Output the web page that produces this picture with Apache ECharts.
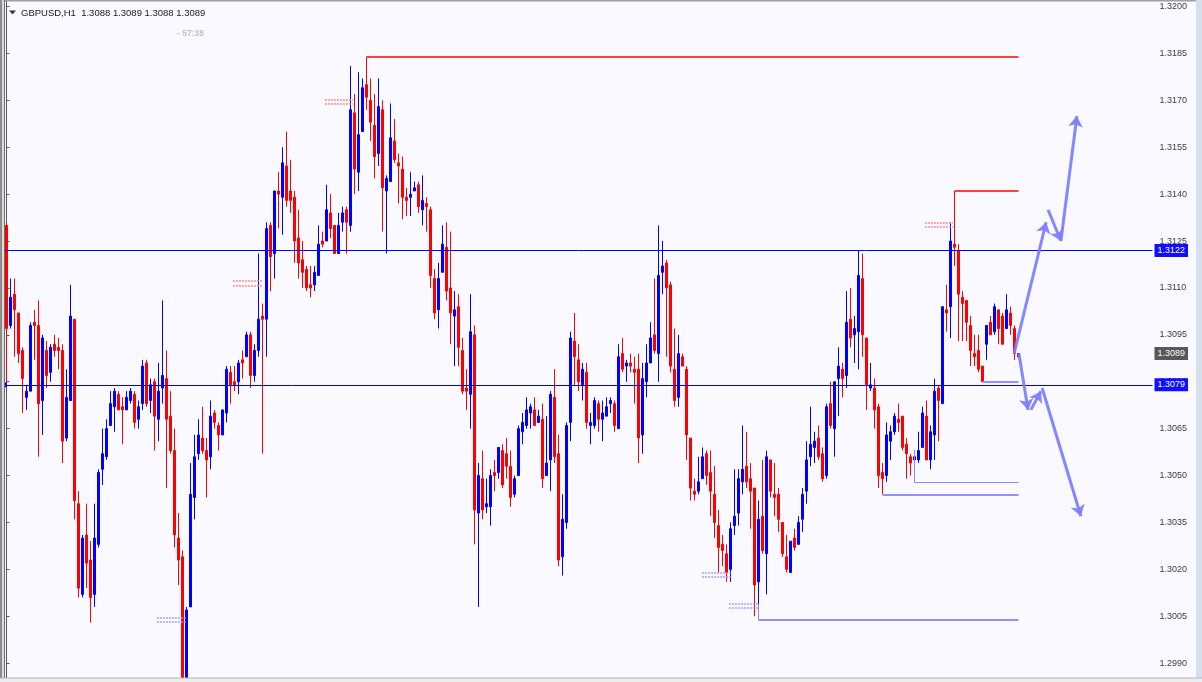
<!DOCTYPE html>
<html><head><meta charset="utf-8">
<script src="https://cdn.jsdelivr.net/npm/echarts@6/dist/echarts.min.js"></script>
<style>html,body{margin:0;padding:0;background:#f9f9ff;overflow:hidden}#c{width:1202px;height:682px}</style>
</head><body><div id="c"></div>
<script>
// ---- data (GBPUSD, H1) ----
const symbolName = 'GBPUSD,H1';
const opens = [
1.3130,1.3098,1.3108,1.3102,1.3090,1.3075,1.3077,1.3099,1.3098,1.3074,
1.3090,1.3083,1.3092,1.3091,1.3090,1.3062,1.3074,1.3100,1.3041,1.3012,
1.3031,1.3023,1.3012,1.3028,1.3052,1.3056,1.3066,1.3072,1.3076,1.3072,
1.3071,1.3074,1.3076,1.3068,1.3073,1.3086,1.3074,1.3080,1.3068,1.3078,
1.3081,1.3069,1.3058,1.3030,1.3024,1.2983,1.3008,1.3043,1.3057,1.3062,
1.3058,1.3056,1.3070,1.3066,1.3063,1.3070,1.3083,1.3080,1.3080,1.3087,
1.3088,1.3095,1.3082,1.3090,1.3101,1.3100,1.3130,1.3121,1.3141,1.3139,
1.3149,1.3141,1.3139,1.3126,1.3119,1.3116,1.3111,1.3111,1.3114,1.3125,
1.3125,1.3134,1.3130,1.3121,1.3131,1.3135,1.3130,1.3166,1.3147,1.3160,
1.3175,1.3170,1.3162,1.3153,1.3167,1.3141,1.3144,1.3157,1.3150,1.3148,
1.3139,1.3139,1.3141,1.3143,1.3135,1.3137,1.3135,1.3113,1.3103,1.3115,
1.3123,1.3110,1.3101,1.3104,1.3090,1.3078,1.3076,1.3095,1.3038,1.3049,
1.3040,1.3040,1.3051,1.3051,1.3058,1.3057,1.3053,1.3044,1.3050,1.3064,
1.3066,1.3070,1.3071,1.3067,1.3068,1.3050,1.3055,1.3075,1.3057,1.3024,
1.3035,1.3067,1.3093,1.3087,1.3079,1.3083,1.3066,1.3066,1.3073,1.3068,
1.3069,1.3073,1.3073,1.3065,1.3089,1.3085,1.3086,1.3084,1.3084,1.3063,
1.3080,1.3086,1.3095,1.3089,1.3115,1.3118,1.3111,1.3084,1.3075,1.3088,
1.3084,1.3062,1.3045,1.3045,1.3049,1.3057,1.3051,1.3044,1.3034,1.3028,
1.3025,1.3020,1.3034,1.3038,1.3048,1.3053,1.3049,1.3046,1.3016,1.3037,
1.3025,1.3055,1.3044,1.3044,1.3035,1.3024,1.3019,1.3030,1.3028,1.3036,
1.3045,1.3056,1.3059,1.3062,1.3057,1.3050,1.3073,1.3065,1.3081,1.3084,
1.3082,1.3100,1.3095,1.3096,1.3113,1.3094,1.3078,1.3078,1.3072,1.3051,
1.3050,1.3061,1.3064,1.3068,1.3069,1.3060,1.3056,1.3055,1.3055,1.3059,
1.3069,1.3055,1.3063,1.3078,1.3073,1.3103,1.3104,1.3124,1.3122,1.3107,
1.3106,1.3098,1.3089,1.3090,1.3085,1.3092,1.3099,1.3096,1.3103,1.3101,
1.3097,1.3102,1.3097,1.3088];
const highs = [
1.3131,1.3113,1.3113,1.3102,1.3091,1.3079,1.3099,1.3103,1.3106,1.3095,
1.3093,1.3092,1.3095,1.3094,1.3092,1.3084,1.3111,1.3100,1.3045,1.3031,
1.3041,1.3029,1.3041,1.3052,1.3065,1.3068,1.3077,1.3078,1.3077,1.3075,
1.3077,1.3078,1.3077,1.3074,1.3087,1.3087,1.3081,1.3081,1.3086,1.3106,
1.3090,1.3077,1.3065,1.3038,1.3026,1.3008,1.3054,1.3063,1.3068,1.3072,
1.3062,1.3074,1.3071,1.3067,1.3071,1.3085,1.3085,1.3085,1.3087,1.3090,
1.3096,1.3096,1.3092,1.3121,1.3105,1.3131,1.3131,1.3141,1.3147,1.3155,
1.3160,1.3151,1.3141,1.3135,1.3125,1.3117,1.3117,1.3117,1.3130,1.3128,
1.3143,1.3140,1.3130,1.3134,1.3136,1.3136,1.3181,1.3172,1.3179,1.3177,
1.3184,1.3177,1.3172,1.3177,1.3170,1.3146,1.3169,1.3164,1.3153,1.3152,
1.3142,1.3147,1.3144,1.3144,1.3146,1.3139,1.3136,1.3116,1.3118,1.3130,
1.3131,1.3128,1.3109,1.3108,1.3094,1.3084,1.3108,1.3098,1.3054,1.3058,
1.3049,1.3052,1.3055,1.3059,1.3060,1.3062,1.3058,1.3050,1.3066,1.3070,
1.3075,1.3073,1.3075,1.3071,1.3073,1.3069,1.3077,1.3084,1.3063,1.3044,
1.3067,1.3096,1.3102,1.3092,1.3086,1.3086,1.3070,1.3075,1.3074,1.3074,
1.3075,1.3075,1.3074,1.3092,1.3094,1.3087,1.3089,1.3088,1.3089,1.3086,
1.3092,1.3099,1.3113,1.3130,1.3125,1.3119,1.3112,1.3097,1.3095,1.3089,
1.3085,1.3062,1.3049,1.3056,1.3059,1.3058,1.3058,1.3053,1.3039,1.3031,
1.3028,1.3035,1.3052,1.3052,1.3066,1.3064,1.3054,1.3046,1.3042,1.3055,
1.3058,1.3055,1.3054,1.3046,1.3035,1.3031,1.3029,1.3033,1.3037,1.3046,
1.3061,1.3072,1.3064,1.3066,1.3059,1.3073,1.3080,1.3080,1.3091,1.3086,
1.3109,1.3110,1.3101,1.3122,1.3121,1.3094,1.3086,1.3081,1.3073,1.3054,
1.3067,1.3066,1.3070,1.3073,1.3069,1.3062,1.3057,1.3058,1.3064,1.3072,
1.3074,1.3066,1.3081,1.3079,1.3104,1.3111,1.3131,1.3141,1.3124,1.3109,
1.3106,1.3101,1.3095,1.3095,1.3085,1.3098,1.3101,1.3105,1.3103,1.3102,
1.3108,1.3104,1.3098,1.3089];
const lows = [
1.3080,1.3097,1.3088,1.3086,1.3070,1.3071,1.3077,1.3087,1.3056,1.3063,
1.3078,1.3080,1.3088,1.3084,1.3054,1.3061,1.3074,1.3036,1.3011,1.3011,
1.3014,1.3003,1.3008,1.3027,1.3047,1.3055,1.3066,1.3064,1.3071,1.3060,
1.3071,1.3073,1.3065,1.3065,1.3071,1.3072,1.3070,1.3058,1.3061,1.3073,
1.3046,1.3057,1.3027,1.3015,1.2978,1.2979,1.3008,1.3036,1.3055,1.3057,
1.3043,1.3052,1.3065,1.3058,1.3063,1.3067,1.3073,1.3077,1.3076,1.3081,
1.3088,1.3078,1.3080,1.3088,1.3057,1.3088,1.3109,1.3113,1.3129,1.3127,
1.3136,1.3134,1.3118,1.3113,1.3110,1.3109,1.3107,1.3109,1.3114,1.3123,
1.3125,1.3126,1.3121,1.3121,1.3128,1.3121,1.3128,1.3140,1.3141,1.3160,
1.3167,1.3157,1.3145,1.3149,1.3128,1.3121,1.3144,1.3150,1.3137,1.3132,
1.3133,1.3133,1.3141,1.3134,1.3130,1.3128,1.3110,1.3100,1.3097,1.3115,
1.3106,1.3092,1.3085,1.3085,1.3076,1.3071,1.3065,1.3028,1.3008,1.3036,
1.3038,1.3034,1.3045,1.3049,1.3046,1.3049,1.3040,1.3043,1.3050,1.3060,
1.3065,1.3065,1.3066,1.3067,1.3046,1.3050,1.3045,1.3054,1.3021,1.3018,
1.3033,1.3061,1.3079,1.3077,1.3074,1.3065,1.3060,1.3065,1.3064,1.3061,
1.3069,1.3070,1.3064,1.3065,1.3083,1.3080,1.3083,1.3073,1.3054,1.3057,
1.3075,1.3086,1.3089,1.3080,1.3108,1.3088,1.3083,1.3072,1.3072,1.3085,
1.3055,1.3042,1.3042,1.3044,1.3049,1.3047,1.3037,1.3030,1.3019,1.3021,
1.3016,1.3016,1.3031,1.3034,1.3044,1.3046,1.3033,1.3005,1.3004,1.3025,
1.3012,1.3043,1.3037,1.3032,1.3024,1.3019,1.3019,1.3026,1.3028,1.3032,
1.3041,1.3053,1.3054,1.3055,1.3048,1.3049,1.3065,1.3056,1.3069,1.3075,
1.3078,1.3091,1.3086,1.3084,1.3088,1.3071,1.3077,1.3065,1.3046,1.3044,
1.3048,1.3055,1.3063,1.3064,1.3058,1.3049,1.3050,1.3048,1.3054,1.3059,
1.3055,1.3052,1.3055,1.3061,1.3073,1.3096,1.3094,1.3117,1.3093,1.3093,
1.3093,1.3085,1.3085,1.3083,1.3080,1.3087,1.3095,1.3095,1.3092,1.3092,
1.3097,1.3095,1.3087,1.3088];
const closes = [
1.3097,1.3107,1.3103,1.3089,1.3081,1.3077,1.3098,1.3098,1.3073,1.3094,
1.3082,1.3091,1.3090,1.3090,1.3061,1.3075,1.3101,1.3042,1.3014,1.3030,
1.3022,1.3011,1.3030,1.3051,1.3057,1.3065,1.3073,1.3077,1.3071,1.3071,
1.3075,1.3077,1.3067,1.3072,1.3085,1.3073,1.3079,1.3069,1.3077,1.3082,
1.3068,1.3058,1.3031,1.3023,1.2983,1.3007,1.3044,1.3056,1.3063,1.3058,
1.3055,1.3069,1.3067,1.3063,1.3071,1.3084,1.3079,1.3079,1.3086,1.3086,
1.3095,1.3082,1.3090,1.3100,1.3100,1.3129,1.3120,1.3141,1.3140,1.3150,
1.3138,1.3138,1.3125,1.3118,1.3115,1.3110,1.3110,1.3115,1.3124,1.3124,
1.3135,1.3129,1.3121,1.3130,1.3134,1.3131,1.3167,1.3148,1.3159,1.3174,
1.3171,1.3163,1.3152,1.3168,1.3142,1.3145,1.3158,1.3151,1.3149,1.3139,
1.3138,1.3140,1.3142,1.3136,1.3138,1.3136,1.3114,1.3102,1.3113,1.3124,
1.3109,1.3102,1.3103,1.3091,1.3077,1.3077,1.3096,1.3039,1.3050,1.3039,
1.3041,1.3050,1.3050,1.3059,1.3047,1.3053,1.3043,1.3049,1.3065,1.3067,
1.3071,1.3072,1.3066,1.3069,1.3049,1.3054,1.3076,1.3056,1.3023,1.3036,
1.3066,1.3094,1.3088,1.3080,1.3084,1.3067,1.3067,1.3074,1.3068,1.3070,
1.3072,1.3074,1.3066,1.3088,1.3084,1.3086,1.3085,1.3083,1.3062,1.3081,
1.3086,1.3094,1.3090,1.3114,1.3117,1.3110,1.3085,1.3074,1.3089,1.3085,
1.3063,1.3046,1.3044,1.3048,1.3056,1.3050,1.3045,1.3035,1.3027,1.3026,
1.3019,1.3033,1.3037,1.3049,1.3052,1.3048,1.3045,1.3015,1.3036,1.3026,
1.3056,1.3045,1.3043,1.3036,1.3025,1.3020,1.3029,1.3027,1.3035,1.3044,
1.3055,1.3060,1.3061,1.3056,1.3049,1.3072,1.3066,1.3080,1.3085,1.3081,
1.3099,1.3094,1.3097,1.3114,1.3095,1.3079,1.3079,1.3071,1.3050,1.3049,
1.3063,1.3064,1.3069,1.3067,1.3059,1.3057,1.3054,1.3056,1.3058,1.3070,
1.3055,1.3064,1.3077,1.3074,1.3104,1.3102,1.3125,1.3123,1.3108,1.3105,
1.3099,1.3090,1.3088,1.3084,1.3080,1.3098,1.3095,1.3104,1.3097,1.3092,
1.3103,1.3098,1.3089,1.3089];
const emptySlots = 33;                 // bars of free space right of the last candle
const yMin = 1.298526, yMax = 1.320208; // visible price range of the window
const yTickValues = [1.2990,1.3005,1.3020,1.3035,1.3050,1.3065,1.3080,1.3095,1.3110,1.3125,1.3140,1.3155,1.3170,1.3185,1.3200];
const levelPrices = [1.3122, 1.3079];  // full-width horizontal lines
const lastPrice = 1.3089;
// trend objects: [fromBar, toBar, price]
const redLevels = [[90, 253, 1.3184], [237, 253, 1.3141]];
const blueLevels = [[188, 253, 1.3004], [219, 253, 1.3044], [244, 253, 1.3080]];
const blueThinLevels = [[227, 253, 1.3048]];
const blueThinVerticals = [[227, 1.3058, 1.3048], [188, 1.3009, 1.3004]];
// price-label markers: [fromBar, toBar, price]
const redMarks = [[79.6, 86.6, 1.31701], [79.6, 86.6, 1.31688], [56.6, 63.9, 1.31122], [56.6, 63.9, 1.31108], [229.6, 236.6, 1.31308], [229.6, 236.6, 1.31297]];
const blueMarks = [[37.6, 45.1, 1.30044], [37.6, 45.1, 1.30031], [173.9, 181.1, 1.30188], [173.9, 181.1, 1.30175], [180.6, 187.9, 1.30089], [180.6, 187.9, 1.30076]];
// projected path arrows: [[bar, price], [bar, price]]
const arrowsUp = [[[251.9, 1.3089], [259.9, 1.3131]], [[260.4, 1.3135], [263.6, 1.3125]], [[263.6, 1.3125], [267.6, 1.3165]]];
const arrowsDown = [[[253.1, 1.3089], [255.4, 1.3071]], [[256.1, 1.3071], [258.6, 1.3077]], [[258.9, 1.3078], [268.6, 1.3037]]];

// ---- build ----
const FONT = '"Liberation Sans", Arial, sans-serif';
const nBars = opens.length + emptySlots;
const cats = [];
const ohlc = [];
for (let i = 0; i < nBars; i++) {
  cats.push(String(i));
  if (i < opens.length) {
    const o = opens[i], c = closes[i];
    ohlc.push([o, c, Math.min(lows[i], o, c), Math.max(highs[i], o, c)]);
  } else ohlc.push('-');
}
const seg = (a) => a.map(d => ({coords: [[d[0], d[2]], [d[1], d[2]]]}));
const vseg = (a) => a.map(d => ({coords: [[d[0], d[1]], [d[0], d[2]]]}));
const arr = (a) => a.map(d => ({coords: d}));

const chart = echarts.init(document.getElementById('c'), null, {renderer: 'canvas'});
const boxLabel = (bg) => ({
  show: true, position: 'end', distance: 2,
  formatter: (p) => Number(p.value).toFixed(4),
  color: '#ffffff', backgroundColor: bg, padding: [2, 3, 1, 3],
  fontSize: 9, fontFamily: FONT, lineHeight: 10
});
chart.setOption({
  animation: false,
  backgroundColor: '#f9f9ff',
  grid: {left: 4.5, width: nBars * 4, top: 0, height: 678, containLabel: false},
  xAxis: [
    {type: 'category', data: cats, boundaryGap: true, show: false},
    {type: 'value', min: -0.5, max: nBars - 0.5, show: false}
  ],
  yAxis: {
    type: 'value', position: 'right', min: yMin, max: yMax, scale: true,
    splitLine: {show: false},
    axisLine: {show: true, lineStyle: {color: '#5a5a5a', width: 1}},
    axisTick: {show: true, length: 3, inside: false, customValues: yTickValues, lineStyle: {color: '#5a5a5a'}},
    axisLabel: {margin: 7, color: '#3c3c3c', fontSize: 9, fontFamily: FONT, customValues: yTickValues, formatter: (v) => Number(v).toFixed(4)}
  },
  series: [
    {
      type: 'candlestick', data: ohlc, barWidth: 2,
      itemStyle: {color: '#0000ff', color0: '#ff0000', borderColor: '#0000ff', borderColor0: '#ff0000', borderWidth: 1},
      markLine: {
        silent: true, animation: false, symbol: ['none', 'none'], precision: 4,
        data: [
          {yAxis: levelPrices[0], lineStyle: {color: '#0000ff', width: 1, type: 'solid'}, label: boxLabel('#1010ff')},
          {yAxis: levelPrices[1], symbol: ['emptyRect', 'emptyRect'], symbolSize: 5, lineStyle: {color: '#0000ff', width: 1, type: 'solid'}, label: boxLabel('#1010ff')},
          {yAxis: lastPrice, lineStyle: {color: 'rgba(0,0,0,0)', width: 1, type: 'solid'}, label: boxLabel('#585858')}
        ]
      },
      z: 3
    },
    {type: 'lines', coordinateSystem: 'cartesian2d', xAxisIndex: 1, silent: true, symbol: 'none',
     lineStyle: {color: '#ff4040', width: 2, opacity: 1}, data: seg(redLevels), z: 4},
    {type: 'lines', coordinateSystem: 'cartesian2d', xAxisIndex: 1, silent: true, symbol: 'none',
     lineStyle: {color: '#9090ff', width: 2, opacity: 1}, data: seg(blueLevels), z: 4},
    {type: 'lines', coordinateSystem: 'cartesian2d', xAxisIndex: 1, silent: true, symbol: 'none',
     lineStyle: {color: '#8a8aff', width: 1, opacity: 1}, data: seg(blueThinLevels).concat(vseg(blueThinVerticals)), z: 4},
    {type: 'lines', coordinateSystem: 'cartesian2d', xAxisIndex: 1, silent: true, symbol: 'none',
     lineStyle: {color: '#ff8080', width: 1.5, type: [2, 1], opacity: 0.9}, data: seg(redMarks), z: 4},
    {type: 'lines', coordinateSystem: 'cartesian2d', xAxisIndex: 1, silent: true, symbol: 'none',
     lineStyle: {color: '#9a9aff', width: 1.5, type: [2, 1], opacity: 0.9}, data: seg(blueMarks), z: 4},
    {type: 'lines', coordinateSystem: 'cartesian2d', xAxisIndex: 1, silent: true,
     symbol: ['none', 'arrow'], symbolSize: 11,
     lineStyle: {color: '#8080ff', width: 3, opacity: 0.95}, data: arr(arrowsUp.concat(arrowsDown)), z: 5}
  ],
  graphic: [
    {type: 'rect', z: 100, shape: {x: 0, y: 0, width: 1202, height: 1.5}, style: {fill: '#a0a0a0'}},
    {type: 'rect', z: 100, shape: {x: 0, y: 0, width: 2, height: 682}, style: {fill: '#8c8c8c'}},
    {type: 'rect', z: 100, shape: {x: 2, y: 0, width: 2, height: 682}, style: {fill: '#dcdcdc'}},
    {type: 'rect', z: 100, shape: {x: 4, y: 0, width: 1, height: 682}, style: {fill: '#6e6e6e'}},
    {type: 'rect', z: 100, shape: {x: 1196, y: 0, width: 6, height: 682}, style: {fill: '#d6e0ec'}},
    {type: 'rect', z: 100, shape: {x: 0, y: 678, width: 1202, height: 4}, style: {fill: '#ececec'}},
    {type: 'rect', z: 100, shape: {x: 0, y: 677.5, width: 1202, height: 1}, style: {fill: '#b4b4b4'}},
    {type: 'polygon', z: 100, shape: {points: [[9, 10.5], [16, 10.5], [12.5, 14.5]]}, style: {fill: '#3a3a3a'}},
    {type: 'text', z: 100, x: 21, y: 13.5, style: {text: symbolName + '  ' + [opens[253], highs[253], lows[253], closes[253]].map(v => v.toFixed(4)).join(' '), fill: '#1a1a1a', font: '9.5px ' + FONT, textVerticalAlign: 'middle'}},
    {type: 'text', z: 100, x: 177, y: 33.5, style: {text: '- 57:38', fill: '#c4c4c4', font: 'bold 8.5px ' + FONT, textVerticalAlign: 'middle'}}
  ]
});
</script></body></html>
